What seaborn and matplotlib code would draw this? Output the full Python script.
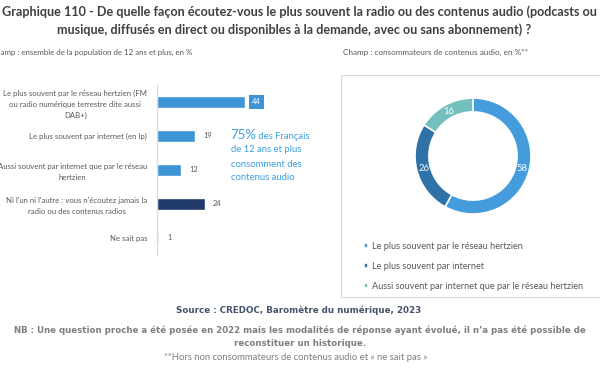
import matplotlib
matplotlib.use("Agg")
import matplotlib.pyplot as plt
import seaborn as sns
import pandas as pd
from matplotlib.patches import Rectangle

# --- Données ---
categories = [
    "Le plus souvent par le réseau hertzien (FM\nou radio numérique terrestre dite aussi\nDAB+)",
    "Le plus souvent par internet (en Ip)",
    "Aussi souvent par internet que par le réseau\nhertzien",
    "Ni l'un ni l'autre : vous n'écoutez jamais la\nradio ou des contenus radios",
    "Ne sait pas",
]
valeurs = [44, 19, 12, 24, 1]
couleurs_barres = ["#3E95D6", "#3E95D6", "#3E95D6", "#1F3A6B", "#D9D9D9"]

donut_labels = [
    "Le plus souvent par le réseau hertzien",
    "Le plus souvent par internet",
    "Aussi souvent par internet que par le réseau hertzien",
]
donut_valeurs = [58, 26, 16]
donut_couleurs = ["#449CDC", "#2E72A8", "#75BFBF"]

W, H = 600, 372
GRIS = "#595959"
FONT = "Lato"

sns.set_theme(style="white")
plt.rcParams["font.family"] = [FONT, "DejaVu Sans"]

fig = plt.figure(figsize=(6, 3.72), dpi=100)


def fx(px):
    return px / W


def fy(py):
    return 1 - py / H


# --- Titre ---
fig.text(fx(299), fy(12), "Graphique 110 - De quelle façon écoutez-vous le plus souvent la radio ou des contenus audio (podcasts ou",
         ha="center", va="center", fontsize=9.1, fontweight="bold", color="#404040")
fig.text(fx(294), fy(30), "musique, diffusés en direct ou disponibles à la demande, avec ou sans abonnement) ?",
         ha="center", va="center", fontsize=9.1, fontweight="bold", color="#404040")

fig.text(fx(-9), fy(52), "Champ : ensemble de la population de 12 ans et plus, en %",
         ha="left", va="center", fontsize=5.7, color=GRIS)
fig.text(fx(343), fy(52), "Champ : consommateurs de contenus audio, en %**",
         ha="left", va="center", fontsize=5.9, color=GRIS)

# --- Barres horizontales ---
ax = fig.add_axes([fx(157), fy(255), fx(200), 170 / H])
df = pd.DataFrame({"cat": categories, "val": valeurs})
sns.barplot(data=df, x="val", y="cat", hue="cat", palette=couleurs_barres,
            legend=False, orient="h", width=0.36, saturation=1, ax=ax)
ax.set_xlim(0, 100)
ax.set_xlabel("")
ax.set_ylabel("")
ax.set_xticks([])
for s in ["top", "right", "bottom"]:
    ax.spines[s].set_visible(False)
ax.spines["left"].set_color("#D9D9D9")
ax.spines["left"].set_linewidth(0.8)
ax.tick_params(axis="y", length=0, pad=7, labelsize=5.6, labelcolor=GRIS)
for lab in ax.get_yticklabels():
    lab.set_multialignment("center")
    lab.set_linespacing(1.65)

for i, v in enumerate(valeurs):
    if i == 0:
        ax.text(v + 3.5, i, str(v), va="center", ha="left", fontsize=5.4, color="white",
                bbox=dict(boxstyle="square,pad=0.45", fc="#3E95D6", ec="none"))
    else:
        ax.text(v + 4, i, str(v), va="center", ha="left", fontsize=5.4, color=GRIS)

# Encadré 75 %
BLEU = "#3AA0E0"
t75 = fig.text(fx(230), fy(139), "75%", ha="left", va="baseline", fontsize=9.5, color=BLEU)
ax.annotate(" des Français", xy=(1, 0), xycoords=t75, va="bottom", ha="left",
            fontsize=6.8, color=BLEU)
for k, ligne in enumerate(["de 12 ans et plus", "consomment des", "contenus audio"]):
    fig.text(fx(231), fy(150 + 14 * k), ligne, ha="left", va="center", fontsize=6.8, color=BLEU)

# --- Cadre droit ---
fig.patches.append(Rectangle((fx(341), fy(297)), fx(300), (297 - 75) / H,
                             transform=fig.transFigure, fill=False, ec="#D9D9D9", lw=0.8))

# --- Donut ---
ax2 = fig.add_axes([fx(415), fy(214), fx(116), 116 / H])
wedges, _, autotexts = ax2.pie(
    donut_valeurs, colors=donut_couleurs, startangle=90, counterclock=False,
    autopct="%.0f", pctdistance=0.88, radius=1,
    wedgeprops=dict(width=0.24, edgecolor="white", linewidth=1.2),
    textprops=dict(color="white", fontsize=6.8),
)
ax2.set_xlim(-1, 1)
ax2.set_ylim(-1, 1)
ax2.set_aspect("equal")

leg = fig.legend(wedges, donut_labels, loc="upper left",
                 bbox_to_anchor=(fx(360), fy(238)), frameon=False,
                 fontsize=6.6, handlelength=0.5, handleheight=0.5,
                 handletextpad=0.45, labelspacing=1.2, borderaxespad=0)
for t in leg.get_texts():
    t.set_color(GRIS)

# --- Source et notes ---
NOTE = ["DejaVu Sans"]
fig.text(fx(299), fy(310), "Source : CREDOC, Baromètre du numérique, 2023",
         ha="center", va="center", fontsize=6.3, fontweight="bold", color="#44546A", family=NOTE)
fig.text(fx(300), fy(330), "NB : Une question proche a été posée en 2022 mais les modalités de réponse ayant évolué, il n’a pas été possible de",
         ha="center", va="center", fontsize=6.25, fontweight="bold", color="#7F7F7F", family=NOTE)
fig.text(fx(300), fy(344), "reconstituer un historique.",
         ha="center", va="center", fontsize=6.25, fontweight="bold", color="#7F7F7F", family=NOTE)
fig.text(fx(296), fy(358), "**Hors non consommateurs de contenus audio et « ne sait pas »",
         ha="center", va="center", fontsize=6.8, color="#7F7F7F")

fig.savefig("out.png", dpi=100)
